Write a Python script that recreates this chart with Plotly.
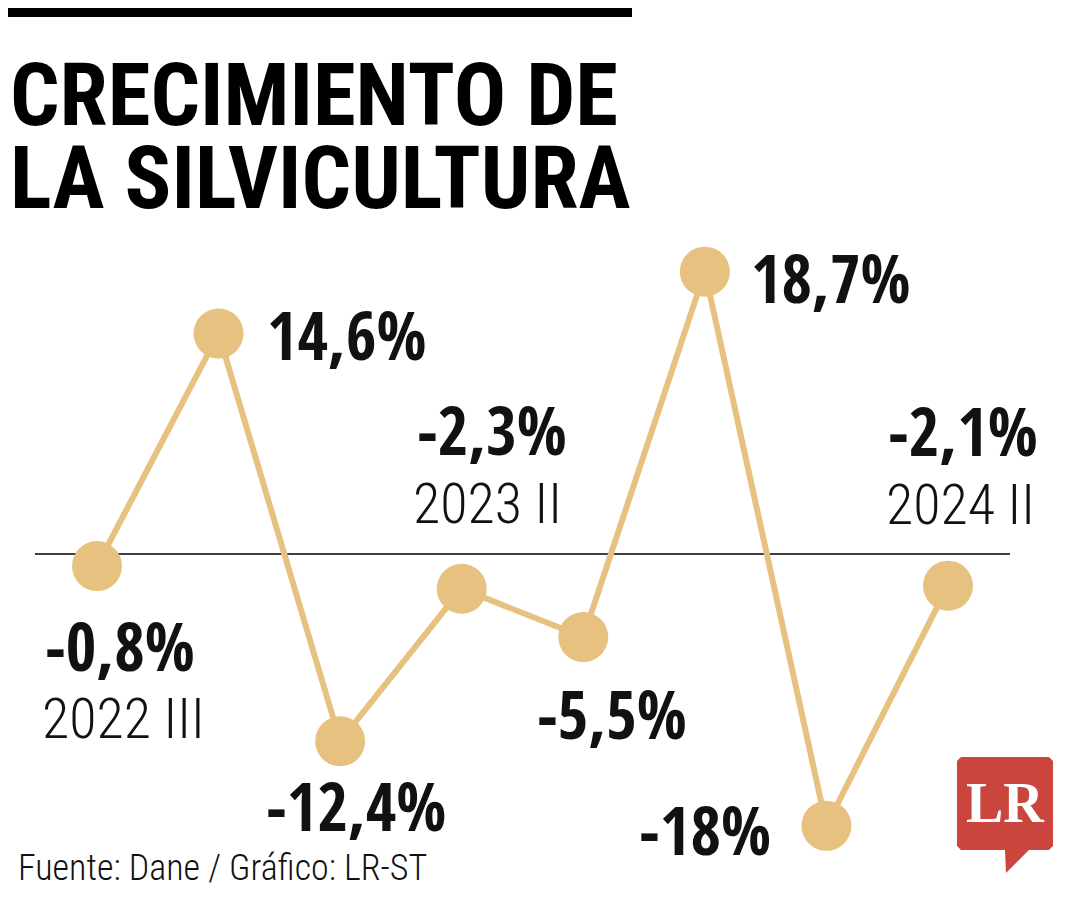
import plotly.graph_objects as go

periods = ["2022 III", "2022 IV", "2023 I", "2023 II", "2023 III", "2023 IV", "2024 I", "2024 II"]
values = [-0.8, 14.6, -12.4, -2.3, -5.5, 18.7, -18.0, -2.1]
value_labels = ["-0,8%", "14,6%", "-12,4%", "-2,3%", "-5,5%", "18,7%", "-18%", "-2,1%"]
year_labels = {0: "2022 III", 3: "2023 II", 7: "2024 II"}

# label offsets in pixels (style, not data)
val_shift = [(23, -79), (128, 0), (16, -64), (30, 160), (29, -76), (126, -5), (-121, -3), (15, 156)]
year_shift = {0: (26, -153), 3: (26, 85), 7: (12, 81)}

W, H = 1080, 900
OFF = 8  # page body margin
TAN = "#E7C17F"
BOLDC = "Open Sans Condensed, Roboto Condensed, DejaVu Sans Condensed, sans-serif"
LIGHTC = "Roboto Condensed, DejaVu Sans Condensed, sans-serif"

def px(x, y):
    return (x - OFF) / W, 1 - (y - OFF) / H

xs = list(range(len(periods)))
fig = go.Figure()
fig.add_trace(go.Scatter(
    x=xs, y=values, mode="lines+markers",
    line=dict(color=TAN, width=6),
    marker=dict(color=TAN, size=50, line=dict(width=0)),
    hoverinfo="skip", showlegend=False, cliponaxis=False,
))

ann = []
for i, (lab, v) in enumerate(zip(value_labels, values)):
    dx, dy = val_shift[i]
    ann.append(dict(x=i, y=v, xref="x", yref="y", text=f"<b>{lab}</b>", showarrow=False,
                    xshift=dx, yshift=dy, xanchor="center", yanchor="middle",
                    font=dict(family=BOLDC, size=66, color="#111111")))
for i, lab in year_labels.items():
    dx, dy = year_shift[i]
    ann.append(dict(x=i, y=values[i], xref="x", yref="y", text=lab, showarrow=False,
                    xshift=dx, yshift=dy, xanchor="center", yanchor="middle",
                    font=dict(family=LIGHTC, size=56, color="#111111", weight=300)))

# Title
tx, ty = px(8, 95)
ann.append(dict(x=tx, y=ty, xref="paper", yref="paper", text="<b>CRECIMIENTO DE</b>",
                showarrow=False, xanchor="left", yanchor="middle",
                font=dict(family=LIGHTC, size=87, color="#000000")))
tx, ty = px(8, 178)
ann.append(dict(x=tx, y=ty, xref="paper", yref="paper", text="<b>LA SILVICULTURA</b>",
                showarrow=False, xanchor="left", yanchor="middle",
                font=dict(family=LIGHTC, size=87, color="#000000")))
# Source
tx, ty = px(16, 868)
ann.append(dict(x=tx, y=ty, xref="paper", yref="paper", text="Fuente: Dane / Gráfico: LR-ST",
                showarrow=False, xanchor="left", yanchor="middle",
                font=dict(family=LIGHTC, size=36, color="#111111", weight=300)))
# Logo text
tx, ty = px(1005, 803)
ann.append(dict(x=tx, y=ty, xref="paper", yref="paper", text="<b>LR</b>",
                showarrow=False, xanchor="center", yanchor="middle",
                font=dict(family="Liberation Serif, DejaVu Serif, serif", size=56, color="#ffffff")))

shapes = []
# top bar
x0, y0 = px(0, 0); x1, y1 = px(632, 17)
shapes.append(dict(type="rect", xref="paper", yref="paper", x0=x0, y0=y1, x1=x1, y1=y0,
                   fillcolor="#000000", line=dict(width=0)))
# zero line
shapes.append(dict(type="line", xref="paper", yref="y", x0=px(35, 0)[0], x1=px(1010, 0)[0], y0=0, y1=0,
                   line=dict(color="#000000", width=1.5), layer="below"))
# logo bubble
pts = [(961, 757), (1049, 757), (1053, 761), (1053, 846), (1049, 850), (1029, 850), (1006, 873),
       (1005, 850), (961, 850), (957, 846), (957, 761)]
path = "M " + " L ".join(f"{px(a, b)[0]:.5f},{px(a, b)[1]:.5f}" for a, b in pts) + " Z"
shapes.append(dict(type="path", xref="paper", yref="paper", path=path,
                   fillcolor="#C9453D", line=dict(width=0)))

# axis mapping: index 0 -> 97px, index 7 -> 948px; 0% -> 554px, 15.1 px per % (reference pixels)
ppx = (948 - 97) / 7
ppy = 15.1
x0p = 97 - OFF
y0p = 554 - OFF
fig.update_layout(
    width=W, height=H, autosize=False,
    margin=dict(l=0, r=0, t=0, b=0),
    paper_bgcolor="#ffffff", plot_bgcolor="#ffffff",
    xaxis=dict(range=[-x0p / ppx, (W - x0p) / ppx], visible=False, fixedrange=True),
    yaxis=dict(range=[-(H - y0p) / ppy, y0p / ppy], visible=False, fixedrange=True),
    annotations=ann, shapes=shapes,
)
fig.write_html("out.html")
